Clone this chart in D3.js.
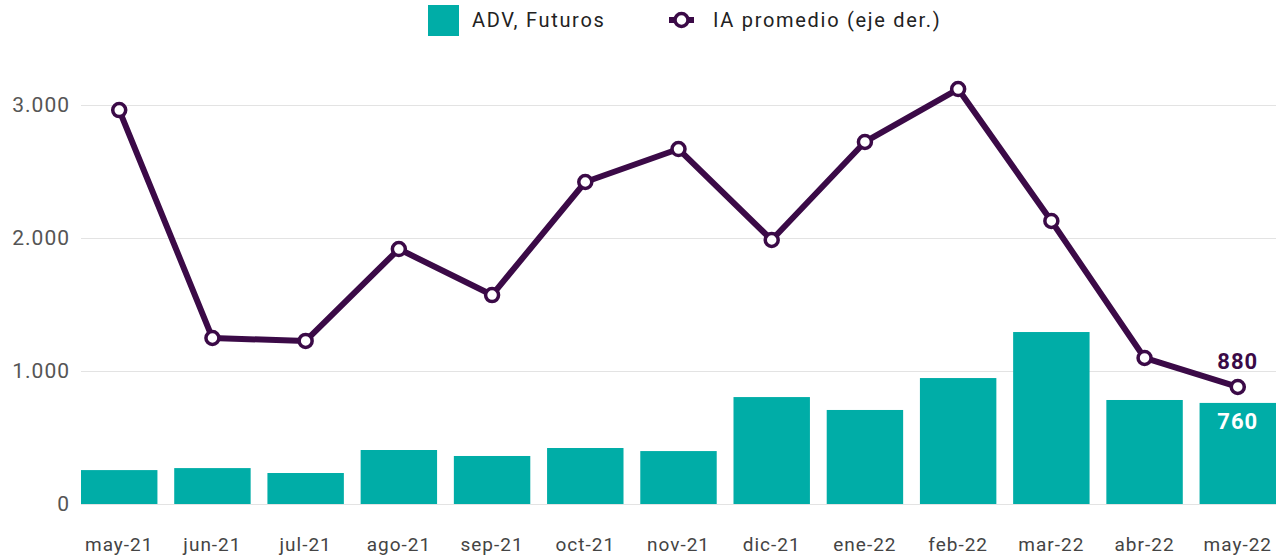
<!DOCTYPE html>
<html>
<head>
<meta charset="utf-8">
<script src="https://cdn.jsdelivr.net/npm/d3@7"></script>
<style>
  body { margin: 0; background: #fff; }
  svg { display: block; font-family: Roboto, sans-serif; }
</style>
</head>
<body>
<svg id="chart" width="1278" height="557"></svg>
<script>
// Data
var months = ['may-21', 'jun-21', 'jul-21', 'ago-21', 'sep-21', 'oct-21', 'nov-21',
              'dic-21', 'ene-22', 'feb-22', 'mar-22', 'abr-22', 'may-22'];
var advFuturos = [255, 270, 233, 406, 361, 421, 398, 804, 707, 947, 1293, 782, 760];
var iaPromedio = [2962, 1248, 1226, 1917, 1571, 2421, 2669, 1985, 2722, 3120, 2128, 1098, 880];
var yTicks = [0, 1000, 2000, 3000];

var teal = '#00ada7';
var purple = '#3b0a47';

var svg = d3.select('#chart');
var margin = {top: 50, right: 2, bottom: 53, left: 81};
var width = 1278 - margin.left - margin.right;
var height = 557 - margin.top - margin.bottom;

var fmt = d3.formatLocale({decimal: ',', thousands: '.', grouping: [3], currency: ['', '']}).format(',.0f');

var x = d3.scaleBand()
  .domain(months)
  .range([0, width])
  .paddingInner(0.18)
  .paddingOuter(0);

var y = d3.scaleLinear()
  .domain([0, 3000])
  .range([height, height - 399]);

var g = svg.append('g')
  .attr('transform', 'translate(' + margin.left + ',' + margin.top + ')');

// Gridlines
g.selectAll('line.grid')
  .data(yTicks)
  .enter()
  .append('line')
  .attr('class', 'grid')
  .attr('x1', 0)
  .attr('x2', width)
  .attr('y1', function(d) { return Math.round(y(d)) + 0.5; })
  .attr('y2', function(d) { return Math.round(y(d)) + 0.5; })
  .style('stroke', '#e3e3e3')
  .style('stroke-width', 1);

// Y axis labels
g.selectAll('text.ylab')
  .data(yTicks)
  .enter()
  .append('text')
  .attr('class', 'ylab')
  .attr('x', -11)
  .attr('y', function(d) { return y(d); })
  .attr('dy', '0.35em')
  .attr('text-anchor', 'end')
  .style('font-size', '21px')
  .style('letter-spacing', '1px')
  .style('fill', '#555')
  .text(function(d) { return fmt(d); });

// Bars
g.selectAll('rect.bar')
  .data(advFuturos)
  .enter()
  .append('rect')
  .attr('class', 'bar')
  .attr('x', function(d, i) { return x(months[i]); })
  .attr('width', x.bandwidth())
  .attr('y', function(d) { return y(d); })
  .attr('height', function(d) { return y(0) - y(d); })
  .style('fill', teal);

// X axis labels
g.selectAll('text.xlab')
  .data(months)
  .enter()
  .append('text')
  .attr('class', 'xlab')
  .attr('x', function(d) { return x(d) + x.bandwidth() / 2; })
  .attr('y', height + 47)
  .attr('text-anchor', 'middle')
  .style('font-size', '19px')
  .style('letter-spacing', '1px')
  .style('fill', '#444')
  .text(function(d) { return d; });

// Line
var line = d3.line()
  .x(function(d, i) { return x(months[i]) + x.bandwidth() / 2; })
  .y(function(d) { return y(d); });

g.append('path')
  .datum(iaPromedio)
  .attr('fill', 'none')
  .attr('stroke', purple)
  .attr('stroke-width', 6)
  .attr('stroke-linejoin', 'round')
  .attr('d', line);

g.selectAll('circle.pt')
  .data(iaPromedio)
  .enter()
  .append('circle')
  .attr('class', 'pt')
  .attr('cx', function(d, i) { return x(months[i]) + x.bandwidth() / 2; })
  .attr('cy', function(d) { return y(d); })
  .attr('r', 6.5)
  .style('fill', '#fff')
  .style('stroke', purple)
  .style('stroke-width', 3.5);

// Last-value labels
var last = months.length - 1;
var lastX = x(months[last]) + x.bandwidth() / 2;

g.append('text')
  .attr('x', lastX)
  .attr('y', y(iaPromedio[last]) - 18)
  .attr('text-anchor', 'middle')
  .style('font-size', '22px')
  .style('font-weight', 'bold')
  .style('letter-spacing', '1px')
  .style('fill', purple)
  .text(fmt(iaPromedio[last]));

g.append('text')
  .attr('x', lastX)
  .attr('y', y(advFuturos[last]) + 26)
  .attr('text-anchor', 'middle')
  .style('font-size', '22px')
  .style('font-weight', 'bold')
  .style('letter-spacing', '1px')
  .style('fill', '#fff')
  .text(fmt(advFuturos[last]));

// Legend
var legend = svg.append('g');

legend.append('rect')
  .attr('x', 428)
  .attr('y', 5)
  .attr('width', 31)
  .attr('height', 31)
  .style('fill', teal);

legend.append('text')
  .attr('x', 472)
  .attr('y', 20)
  .attr('dy', '0.35em')
  .style('font-size', '20px')
  .style('letter-spacing', '1.7px')
  .style('fill', '#222')
  .text('ADV, Futuros');

legend.append('line')
  .attr('x1', 669)
  .attr('x2', 694)
  .attr('y1', 20)
  .attr('y2', 20)
  .style('stroke', purple)
  .style('stroke-width', 6);

legend.append('circle')
  .attr('cx', 681.5)
  .attr('cy', 20)
  .attr('r', 6.5)
  .style('fill', '#fff')
  .style('stroke', purple)
  .style('stroke-width', 3.5);

legend.append('text')
  .attr('x', 713)
  .attr('y', 20)
  .attr('dy', '0.35em')
  .style('font-size', '20px')
  .style('letter-spacing', '1.7px')
  .style('fill', '#222')
  .text('IA promedio (eje der.)');
</script>
</body>
</html>
